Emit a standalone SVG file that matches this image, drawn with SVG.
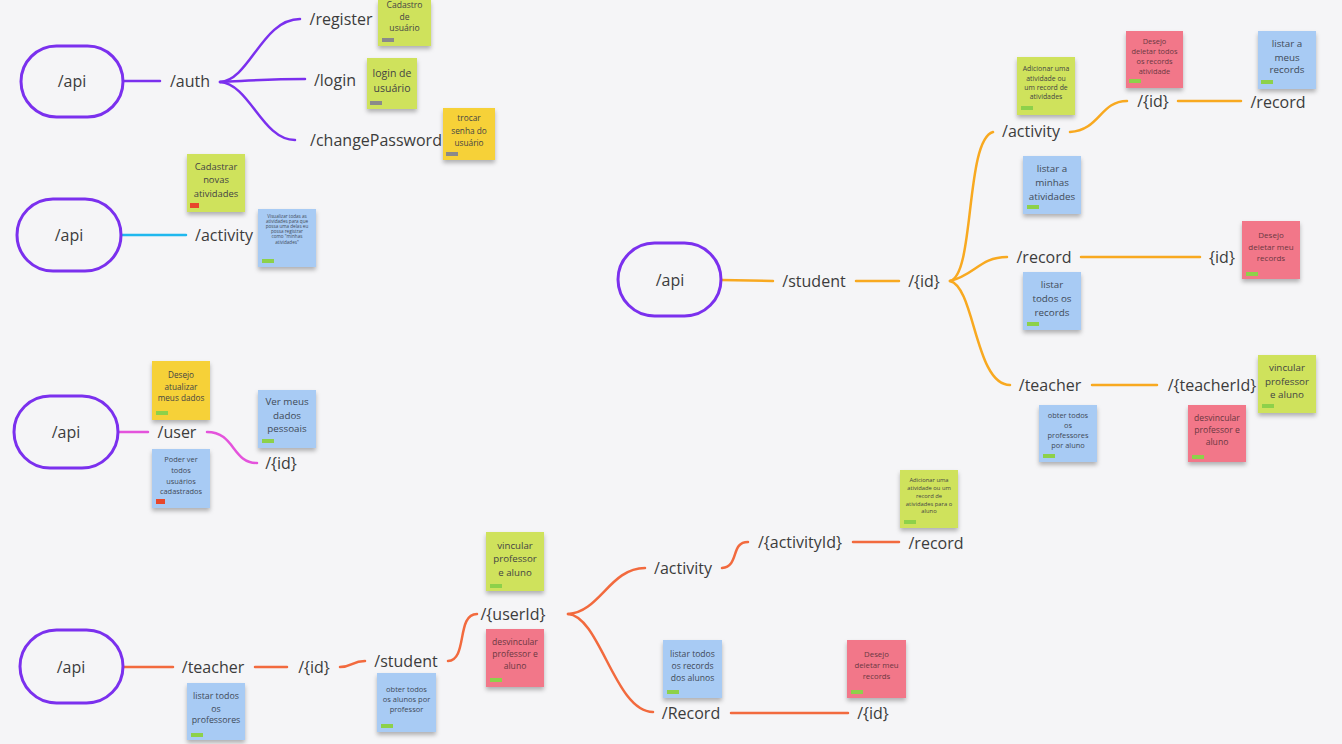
<svg xmlns="http://www.w3.org/2000/svg" width="1342" height="744" viewBox="0 0 1342 744">
<defs>
<filter id="sh" x="-20%" y="-20%" width="140%" height="150%">
<feDropShadow dx="0" dy="3" stdDeviation="2" flood-color="#000" flood-opacity="0.28"/>
</filter>
<style>
.pill{fill:none;stroke:#7b30ee;stroke-width:3}
.lbl{font-family:"Open Sans","Noto Sans",sans-serif;font-size:16px;fill:#3c3c3c;text-anchor:middle}
.c{fill:none;stroke-width:2.5;stroke-linecap:round}
.pu{stroke:#7b30ee}.cy{stroke:#1fb8ee}.mg{stroke:#e453dc}.or{stroke:#f8a920}.rd{stroke:#f26a3e}
.g{fill:#cfe25c;filter:url(#sh)}.y{fill:#f6d137;filter:url(#sh)}.b{fill:#a8cbf4;filter:url(#sh)}.p{fill:#f27789;filter:url(#sh)}
.t{font-family:"Open Sans","Noto Sans",sans-serif;fill:#444;text-anchor:middle}
.tp{fill:#6a3842}.tb{fill:#3f4a58}
.tg{fill:#8a8a8a}.tr{fill:#e8472b}.tgr{fill:#8dd14a}
</style>
</defs>
<rect width="1342" height="744" fill="#f5f5f7"/>

<g id="connectors">
<path class="c pu" d="M123,81 L160,81"/>
<path class="c pu" d="M220,82 C250,80 262,19 300,19"/>
<path class="c pu" d="M220,82 C260,80 270,79 305,79"/>
<path class="c pu" d="M220,82 C250,84 262,140 295,140"/>
<path class="c cy" d="M121,235 L186,235"/>
<path class="c mg" d="M118,432 L148,432"/>
<path class="c mg" d="M207,432 C235,432 232,463 257,463"/>
<path class="c or" d="M721,280 L773,281"/>
<path class="c or" d="M856,281 L899,281"/>
<path class="c or" d="M950,281 C975,275 965,140 993,132"/>
<path class="c or" d="M950,281 C975,275 980,257 1007,257"/>
<path class="c or" d="M950,281 C975,287 975,385 1010,385"/>
<path class="c or" d="M1070,132 C1100,130 1100,101 1127,101"/>
<path class="c or" d="M1178,101 L1241,101"/>
<path class="c or" d="M1081,257 L1200,257"/>
<path class="c or" d="M1092,385 L1157,385"/>
<path class="c rd" d="M123,667 L173,667"/>
<path class="c rd" d="M255,667 L287,667"/>
<path class="c rd" d="M340,667 C352,667 352,661 365,661"/>
<path class="c rd" d="M448,661 C468,660 456,614 477,614"/>
<path class="c rd" d="M568,614 C600,612 610,568 645,568"/>
<path class="c rd" d="M568,614 C600,616 615,712 653,712"/>
<path class="c rd" d="M722,568 C740,566 730,542 748,542"/>
<path class="c rd" d="M853,542 L899,542"/>
<path class="c rd" d="M731,713 L848,713"/>
</g>

<!-- Tree 1 -->
<g id="api1"><rect class="pill" x="21" y="46" width="102" height="71" rx="35.5"/><text class="lbl" x="72" y="87">/api</text></g>
<g id="auth"><text class="lbl" x="190" y="87">/auth</text></g>
<g id="register"><text class="lbl" x="341" y="25">/register</text></g>
<g id="login"><text class="lbl" x="335" y="86">/login</text></g>
<g id="changePassword"><text class="lbl" x="376" y="146">/changePassword</text></g>
<g id="note-cadastro"><rect class="g" x="378" y="0" width="53" height="46"/><rect class="tg" x="382" y="38" width="12" height="4"/>
<text class="t" font-size="8.6" x="404.5" y="8">Cadastro</text><text class="t" font-size="8.6" x="404.5" y="20">de</text><text class="t" font-size="8.6" x="404.5" y="31">usuário</text></g>
<g id="note-login"><rect class="g" x="367" y="58" width="50" height="51"/><rect class="tg" x="370" y="101" width="12" height="4"/>
<text class="t" font-size="10.5" x="392" y="77">login de</text><text class="t" font-size="10.5" x="392" y="92">usuário</text></g>
<g id="note-trocar"><rect class="y" x="443" y="108" width="52" height="52"/><rect class="tg" x="446" y="152" width="12" height="4"/>
<text class="t" font-size="8.3" x="469" y="121">trocar</text><text class="t" font-size="8.3" x="469" y="134">senha do</text><text class="t" font-size="8.3" x="469" y="146">usuário</text></g>

<!-- Tree 2 -->
<g id="api2"><rect class="pill" x="17" y="199" width="104" height="72" rx="36"/><text class="lbl" x="69" y="241">/api</text></g>
<g id="activity1"><text class="lbl" x="224" y="241">/activity</text></g>
<g id="note-cadastrar"><rect class="g" x="187" y="154" width="58" height="58"/><rect class="tr" x="190" y="203" width="9" height="5"/>
<text class="t" font-size="9.4" x="216" y="170">Cadastrar</text><text class="t" font-size="9.4" x="216" y="183">novas</text><text class="t" font-size="9.4" x="216" y="197">atividades</text></g>
<g id="note-visualizar"><rect class="b" x="258" y="209" width="58" height="58"/><rect class="tgr" x="262" y="259" width="12" height="4"/>
<text class="t tb" font-size="4.6" x="287" y="218">Visualizar todas as</text><text class="t tb" font-size="4.6" x="287" y="223">atividades para que</text><text class="t tb" font-size="4.6" x="287" y="228">possa uma delas eu</text><text class="t tb" font-size="4.6" x="287" y="233">possa registrar</text><text class="t tb" font-size="4.6" x="287" y="238">como "minhas</text><text class="t tb" font-size="4.6" x="287" y="243.5">atividades"</text></g>

<!-- Tree 3 -->
<g id="api3"><rect class="pill" x="14" y="396" width="104" height="72" rx="36"/><text class="lbl" x="66" y="438">/api</text></g>
<g id="user"><text class="lbl" x="177" y="438">/user</text></g>
<g id="userid"><text class="lbl" x="281" y="469">/{id}</text></g>
<g id="note-atualizar"><rect class="y" x="152" y="361" width="58" height="59"/><rect class="tgr" x="156" y="411" width="12" height="4"/>
<text class="t" font-size="8.2" x="181" y="378">Desejo</text><text class="t" font-size="8.2" x="181" y="390">atualizar</text><text class="t" font-size="8.2" x="181" y="401">meus dados</text></g>
<g id="note-vermeus"><rect class="b" x="258" y="390" width="58" height="58"/><rect class="tgr" x="262" y="439" width="12" height="4"/>
<text class="t tb" font-size="9.8" x="287" y="405">Ver meus</text><text class="t tb" font-size="9.8" x="287" y="419">dados</text><text class="t tb" font-size="9.8" x="287" y="431.5">pessoais</text></g>
<g id="note-poder"><rect class="b" x="152" y="449" width="58" height="59"/><rect class="tr" x="156" y="499" width="9" height="5"/>
<text class="t tb" font-size="7.4" x="181" y="462">Poder ver</text><text class="t tb" font-size="7.4" x="181" y="473">todos</text><text class="t tb" font-size="7.4" x="181" y="484">usuários</text><text class="t tb" font-size="7.4" x="181" y="494">cadastrados</text></g>

<!-- Tree 4 -->
<g id="api4"><rect class="pill" x="618" y="243" width="103" height="73" rx="36.5"/><text class="lbl" x="670" y="286">/api</text></g>
<g id="student4"><text class="lbl" x="814" y="287">/student</text></g>
<g id="id4"><text class="lbl" x="924" y="287">/{id}</text></g>
<g id="activity4"><text class="lbl" x="1031" y="137">/activity</text></g>
<g id="actid4"><text class="lbl" x="1153" y="107">/{id}</text></g>
<g id="actrecord4"><text class="lbl" x="1278" y="108">/record</text></g>
<g id="record4"><text class="lbl" x="1044" y="263">/record</text></g>
<g id="recid4"><text class="lbl" x="1222" y="263">{id}</text></g>
<g id="teacher4"><text class="lbl" x="1050" y="391">/teacher</text></g>
<g id="teacherid4"><text class="lbl" x="1212" y="391">/{teacherId}</text></g>
<g id="note-adicionar4"><rect class="g" x="1017" y="57" width="58" height="58"/><rect class="tgr" x="1021" y="106" width="12" height="4"/>
<text class="t" font-size="6.9" x="1046" y="70.5">Adicionar uma</text><text class="t" font-size="6.9" x="1046" y="80.5">atividade ou</text><text class="t" font-size="6.9" x="1046" y="89.5">um record de</text><text class="t" font-size="6.9" x="1046" y="98.5">atividades</text></g>
<g id="note-deletartodos"><rect class="p" x="1126" y="31" width="57" height="57"/><rect class="tgr" x="1129" y="79" width="12" height="4"/>
<text class="t tp" font-size="7.4" x="1154.5" y="43.5">Desejo</text><text class="t tp" font-size="7.4" x="1154.5" y="53.5">deletar todos</text><text class="t tp" font-size="7.4" x="1154.5" y="63.5">os records</text><text class="t tp" font-size="7.4" x="1154.5" y="73.5">atividade</text></g>
<g id="note-meusrecords"><rect class="b" x="1258" y="31" width="58" height="58"/><rect class="tgr" x="1261" y="80" width="12" height="4"/>
<text class="t tb" font-size="9.8" x="1287" y="46.5">listar a</text><text class="t tb" font-size="9.8" x="1287" y="60.5">meus</text><text class="t tb" font-size="9.8" x="1287" y="72.5">records</text></g>
<g id="note-minhas"><rect class="b" x="1023" y="156" width="58" height="58"/><rect class="tgr" x="1027" y="205" width="12" height="4"/>
<text class="t tb" font-size="9.8" x="1052" y="171.5">listar a</text><text class="t tb" font-size="9.8" x="1052" y="185.5">minhas</text><text class="t tb" font-size="9.8" x="1052" y="199.5">atividades</text></g>
<g id="note-deletarmeu4"><rect class="p" x="1242" y="221" width="58" height="58"/><rect class="tgr" x="1246" y="272" width="12" height="4"/>
<text class="t tp" font-size="8" x="1271" y="238">Desejo</text><text class="t tp" font-size="8" x="1271" y="250">deletar meu</text><text class="t tp" font-size="8" x="1271" y="261">records</text></g>
<g id="note-todosrecords"><rect class="b" x="1023" y="272" width="58" height="58"/><rect class="tgr" x="1027" y="322" width="12" height="4"/>
<text class="t tb" font-size="9.8" x="1052" y="287.5">listar</text><text class="t tb" font-size="9.8" x="1052" y="301.5">todos os</text><text class="t tb" font-size="9.8" x="1052" y="315.5">records</text></g>
<g id="note-vincular4"><rect class="g" x="1258" y="355" width="58" height="58"/><rect class="tgr" x="1262" y="404" width="12" height="4"/>
<text class="t" font-size="9.8" x="1287" y="370.5">vincular</text><text class="t" font-size="9.8" x="1287" y="384.5">professor</text><text class="t" font-size="9.8" x="1287" y="397.5">e aluno</text></g>
<g id="note-obterprof"><rect class="b" x="1039" y="405" width="58" height="57"/><rect class="tgr" x="1043" y="454" width="12" height="4"/>
<text class="t tb" font-size="7.4" x="1068" y="418">obter todos</text><text class="t tb" font-size="7.4" x="1068" y="428">os</text><text class="t tb" font-size="7.4" x="1068" y="438">professores</text><text class="t tb" font-size="7.4" x="1068" y="448">por aluno</text></g>
<g id="note-desvincular4"><rect class="p" x="1188" y="405" width="58" height="57"/><rect class="tgr" x="1192" y="455" width="12" height="4"/>
<text class="t tp" font-size="8.6" x="1217" y="421">desvincular</text><text class="t tp" font-size="8.6" x="1217" y="433">professor e</text><text class="t tp" font-size="8.6" x="1217" y="445">aluno</text></g>

<!-- Tree 5 -->
<g id="api5"><rect class="pill" x="20" y="630" width="103" height="73" rx="36.5"/><text class="lbl" x="71" y="673">/api</text></g>
<g id="teacher5"><text class="lbl" x="213" y="673">/teacher</text></g>
<g id="id5"><text class="lbl" x="314" y="673">/{id}</text></g>
<g id="student5"><text class="lbl" x="406" y="667">/student</text></g>
<g id="userid5"><text class="lbl" x="513" y="620">/{userId}</text></g>
<g id="activity5"><text class="lbl" x="683" y="574">/activity</text></g>
<g id="activityid5"><text class="lbl" x="800" y="548">/{activityId}</text></g>
<g id="record5"><text class="lbl" x="936" y="549">/record</text></g>
<g id="Record5"><text class="lbl" x="691" y="719">/Record</text></g>
<g id="recid5"><text class="lbl" x="873" y="719">/{id}</text></g>
<g id="note-adicionar5"><rect class="g" x="900" y="470" width="58" height="58"/><rect class="tgr" x="904" y="520" width="12" height="4"/>
<text class="t" font-size="5.8" x="929" y="482">Adicionar uma</text><text class="t" font-size="5.8" x="929" y="490">atividade ou um</text><text class="t" font-size="5.8" x="929" y="498">record de</text><text class="t" font-size="5.8" x="929" y="506">atividades para o</text><text class="t" font-size="5.8" x="929" y="513">aluno</text></g>
<g id="note-vincular5"><rect class="g" x="486" y="532" width="58" height="59"/><rect class="tgr" x="490" y="584" width="12" height="4"/>
<text class="t" font-size="9.7" x="515" y="548.5">vincular</text><text class="t" font-size="9.7" x="515" y="561.5">professor</text><text class="t" font-size="9.7" x="515" y="575.5">e aluno</text></g>
<g id="note-desvincular5"><rect class="p" x="486" y="629" width="58" height="58"/><rect class="tgr" x="490" y="678" width="12" height="4"/>
<text class="t tp" font-size="8.6" x="515" y="645">desvincular</text><text class="t tp" font-size="8.6" x="515" y="657">professor e</text><text class="t tp" font-size="8.6" x="515" y="669">aluno</text></g>
<g id="note-obteralunos"><rect class="b" x="377" y="673" width="59" height="59"/><rect class="tgr" x="381" y="724" width="12" height="4"/>
<text class="t tb" font-size="7.5" x="406.5" y="692">obter todos</text><text class="t tb" font-size="7.5" x="406.5" y="702">os alunos por</text><text class="t tb" font-size="7.5" x="406.5" y="712">professor</text></g>
<g id="note-listarprof"><rect class="b" x="187" y="683" width="58" height="57"/><rect class="tgr" x="191" y="733" width="12" height="4"/>
<text class="t tb" font-size="8.8" x="216" y="699">listar todos</text><text class="t tb" font-size="8.8" x="216" y="712">os</text><text class="t tb" font-size="8.8" x="216" y="723">professores</text></g>
<g id="note-recordsalunos"><rect class="b" x="663" y="640" width="59" height="58"/><rect class="tgr" x="667" y="690" width="12" height="4"/>
<text class="t tb" font-size="8.6" x="692.5" y="656.5">listar todos</text><text class="t tb" font-size="8.6" x="692.5" y="668.5">os records</text><text class="t tb" font-size="8.6" x="692.5" y="680.5">dos alunos</text></g>
<g id="note-deletarmeu5"><rect class="p" x="847" y="640" width="59" height="58"/><rect class="tgr" x="851" y="690" width="12" height="4"/>
<text class="t tp" font-size="7.8" x="876.5" y="657">Desejo</text><text class="t tp" font-size="7.8" x="876.5" y="668">deletar meu</text><text class="t tp" font-size="7.8" x="876.5" y="679">records</text></g>
</svg>
